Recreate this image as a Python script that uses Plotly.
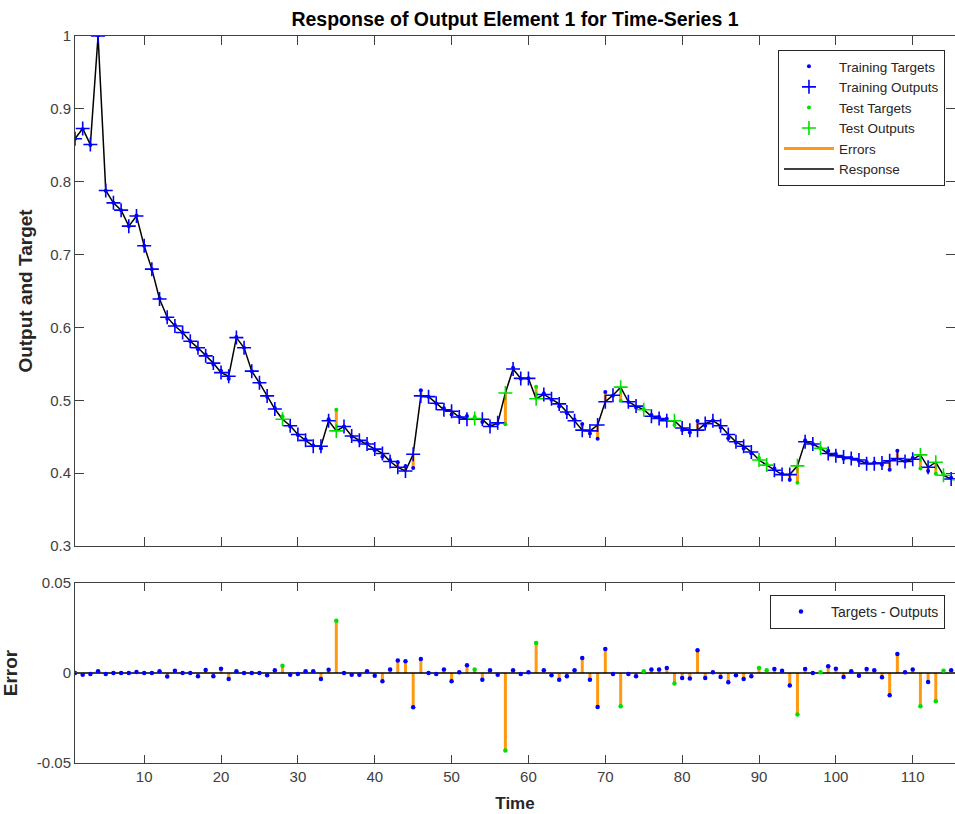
import plotly.graph_objects as go

time = list(range(1, 117))

outputs = [
    0.859, 0.873, 0.851, 1.000, 0.788, 0.771, 0.761, 0.739, 0.753, 0.712,
    0.680, 0.639, 0.614, 0.602, 0.593, 0.581, 0.572, 0.561, 0.551, 0.538,
    0.533, 0.586, 0.572, 0.540, 0.524, 0.506, 0.488, 0.474, 0.465, 0.453,
    0.445, 0.437, 0.437, 0.472, 0.458, 0.464, 0.451, 0.445, 0.440, 0.433,
    0.427, 0.416, 0.408, 0.403, 0.426, 0.506, 0.505, 0.496, 0.487, 0.485,
    0.477, 0.474, 0.475, 0.474, 0.464, 0.469, 0.510, 0.543, 0.530, 0.530,
    0.502, 0.508, 0.502, 0.495, 0.484, 0.472, 0.459, 0.458, 0.466, 0.498,
    0.507, 0.518, 0.498, 0.492, 0.487, 0.478, 0.475, 0.472, 0.472, 0.462,
    0.459, 0.459, 0.468, 0.472, 0.465, 0.453, 0.443, 0.437, 0.429, 0.418,
    0.411, 0.404, 0.398, 0.398, 0.410, 0.443, 0.440, 0.434, 0.427, 0.424,
    0.422, 0.420, 0.418, 0.413, 0.413, 0.414, 0.417, 0.420, 0.416, 0.419,
    0.425, 0.408, 0.415, 0.397, 0.392, 0.391,
]

errors = [
    0.0, -0.001, -0.0005, 0.001, -0.0005, 0.0, 0.0, 0.0, 0.0005, 0.0,
    0.0, 0.001, -0.002, 0.0013, 0.0, 0.0, -0.0018, 0.0017, -0.0018, 0.0024,
    -0.0033, 0.001, 0.0, 0.0, 0.0, -0.0013, 0.0015, 0.004, -0.001, -0.0005,
    0.001, 0.001, -0.0033, 0.0018, 0.029, 0.0, -0.001, -0.001, 0.001, -0.0015,
    -0.0046, 0.002, 0.0069, 0.0065, -0.019, 0.0078, 0.0, -0.0005, 0.002, -0.0046,
    0.0004, 0.0043, 0.002, -0.0037, 0.0015, -0.001, -0.043, 0.0015, -0.0005, 0.0004,
    0.0167, 0.0015, -0.0013, -0.0037, -0.0018, 0.0015, 0.0083, -0.0037, -0.0189, 0.0133,
    -0.0005, -0.0185, -0.0005, -0.0018, 0.001, 0.0019, 0.0019, 0.0028, -0.0059, -0.0028,
    -0.0031, 0.0126, -0.0028, 0.0004, -0.0022, -0.0052, -0.0013, -0.0033, -0.0018, 0.0028,
    0.0015, 0.0022, 0.0013, -0.007, -0.0231, 0.0022, 0.0, 0.0004, 0.0037, 0.0024,
    -0.0022, 0.001, -0.0015, 0.0022, 0.0015, -0.0024, -0.0124, 0.0106, 0.0004, 0.0019,
    -0.0185, -0.005, -0.0157, 0.0013, 0.0015, 0.0,
]

test_times = [28, 35, 53, 57, 61, 72, 75, 79, 90, 91, 95, 98, 111, 113, 114, 116]

targets = [o + e for o, e in zip(outputs, errors)]

BLUE = "#0000FF"
GREEN = "#00E000"
ORANGE = "#FF9A10"
AX = "#404040"
TXT = "#262626"
FONT = "Liberation Sans, Arial, Helvetica, sans-serif"

train_idx = [i for i, t in enumerate(time) if t not in test_times]
test_idx = [i for i, t in enumerate(time) if t in test_times]

fig = go.Figure()

# Errors as vertical segments (top)
ex, ey = [], []
for i, t in enumerate(time):
    ex += [t, t, None]
    ey += [outputs[i], targets[i], None]
fig.add_trace(go.Scatter(x=ex, y=ey, mode="lines", line=dict(color=ORANGE, width=3),
                         showlegend=False, xaxis="x", yaxis="y"))

# Response line
fig.add_trace(go.Scatter(x=time, y=outputs, mode="lines", line=dict(color="black", width=1.5),
                         showlegend=False, xaxis="x", yaxis="y"))

# Targets / outputs markers
fig.add_trace(go.Scatter(x=[time[i] for i in train_idx], y=[targets[i] for i in train_idx],
                         mode="markers", marker=dict(color=BLUE, size=4, symbol="circle"),
                         name="Training Targets", xaxis="x", yaxis="y", legend="legend"))
fig.add_trace(go.Scatter(x=[time[i] for i in train_idx], y=[outputs[i] for i in train_idx],
                         mode="markers",
                         marker=dict(symbol="cross-thin", size=10, line=dict(color=BLUE, width=1.6)),
                         name="Training Outputs", xaxis="x", yaxis="y", legend="legend"))
fig.add_trace(go.Scatter(x=[time[i] for i in test_idx], y=[targets[i] for i in test_idx],
                         mode="markers", marker=dict(color=GREEN, size=4, symbol="circle"),
                         name="Test Targets", xaxis="x", yaxis="y", legend="legend"))
fig.add_trace(go.Scatter(x=[time[i] for i in test_idx], y=[outputs[i] for i in test_idx],
                         mode="markers",
                         marker=dict(symbol="cross-thin", size=10, line=dict(color=GREEN, width=1.6)),
                         name="Test Outputs", xaxis="x", yaxis="y", legend="legend"))
# legend entries for the line styles
fig.add_trace(go.Scatter(x=[None], y=[None], mode="lines", line=dict(color=ORANGE, width=3),
                         name="Errors", xaxis="x", yaxis="y", legend="legend"))
fig.add_trace(go.Scatter(x=[None], y=[None], mode="lines", line=dict(color="black", width=1.5),
                         name="Response", xaxis="x", yaxis="y", legend="legend"))

# Bottom error plot
sx, sy = [], []
for i, t in enumerate(time):
    sx += [t, t, None]
    sy += [0, errors[i], None]
fig.add_trace(go.Scatter(x=sx, y=sy, mode="lines", line=dict(color=ORANGE, width=3),
                         showlegend=False, xaxis="x2", yaxis="y2"))
fig.add_trace(go.Scatter(x=[time[0], time[-1]], y=[0, 0], mode="lines",
                         line=dict(color="black", width=1.5), showlegend=False,
                         xaxis="x2", yaxis="y2"))
fig.add_trace(go.Scatter(x=[time[i] for i in train_idx], y=[errors[i] for i in train_idx],
                         mode="markers", marker=dict(color=BLUE, size=4.5),
                         name="Targets - Outputs", xaxis="x2", yaxis="y2", legend="legend2"))
fig.add_trace(go.Scatter(x=[time[i] for i in test_idx], y=[errors[i] for i in test_idx],
                         mode="markers", marker=dict(color=GREEN, size=4.5),
                         showlegend=False, xaxis="x2", yaxis="y2"))

axis_common = dict(showline=True, linecolor=AX, linewidth=1, mirror="ticks", ticks="inside",
                   tickcolor=AX, showgrid=False, zeroline=False,
                   tickfont=dict(family=FONT, size=15, color=AX))

fig.update_layout(
    width=955, height=814,
    margin=dict(l=75, r=0, t=36, b=51),
    plot_bgcolor="white", paper_bgcolor="white",
    font=dict(family=FONT, color=TXT),
    title=dict(text="<b>Response of Output Element 1 for Time-Series 1</b>",
               x=515 / 955, xanchor="center", y=1 - 19 / 814, yanchor="middle",
               font=dict(size=19.5, color="black")),
    xaxis=dict(**axis_common, domain=[0, 1], range=[1, 115.5], anchor="y",
               tickvals=list(range(10, 111, 10)), showticklabels=False, ticklen=9),
    yaxis=dict(**axis_common, domain=[0.2985, 1], range=[0.3, 1], anchor="x",
               tickvals=[0.3, 0.4, 0.5, 0.6, 0.7, 0.8, 0.9, 1],
               ticktext=["0.3", "0.4", "0.5", "0.6", "0.7", "0.8", "0.9", "1"], ticklen=9,
               title=dict(text="<b>Output and Target</b>", font=dict(size=19, color=TXT),
                          standoff=12)),
    xaxis2=dict(**axis_common, domain=[0, 1], range=[1, 115.5], anchor="y2",
                tickvals=list(range(10, 111, 10)), ticklen=8,
                title=dict(text="<b>Time</b>", font=dict(size=17, color=TXT), standoff=13)),
    yaxis2=dict(**axis_common, domain=[0, 0.2476], range=[-0.05, 0.05], anchor="x2",
                tickvals=[-0.05, 0, 0.05], ticktext=["-0.05", "0", "0.05"], ticklen=8,
                title=dict(text="<b>Error</b>", font=dict(size=19, color=TXT), standoff=14)),
    legend=dict(x=0.9886, y=(763 - 50) / 727, xanchor="right", yanchor="top", bgcolor="white",
                bordercolor=TXT, borderwidth=1, itemwidth=50,
                font=dict(family=FONT, size=13.5, color=TXT),
                tracegroupgap=0, itemsizing="trace"),
    legend2=dict(x=0.9886, y=(763 - 595) / 727, xanchor="right", yanchor="top", bgcolor="white",
                 bordercolor=TXT, borderwidth=1, itemwidth=50,
                 font=dict(family=FONT, size=14, color=TXT)),
)

fig.write_html("out.html", config={"displayModeBar": False},
               post_script="document.body.style.margin='0';")
